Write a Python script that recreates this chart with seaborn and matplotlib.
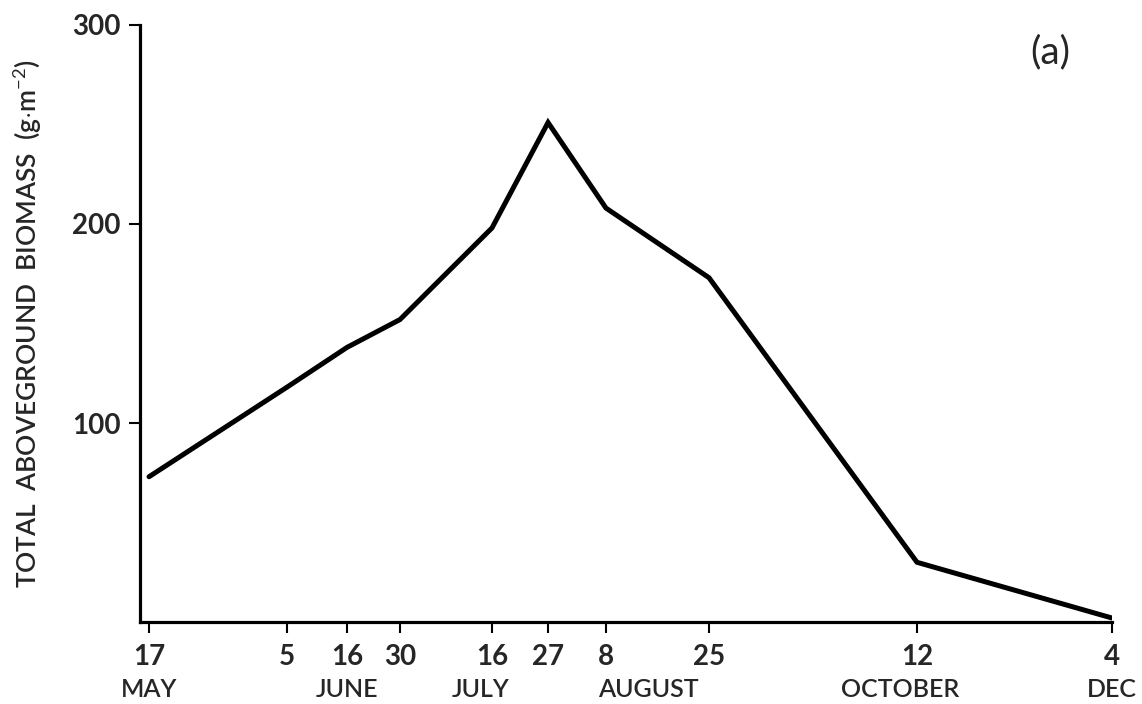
import numpy as np
import pandas as pd
import matplotlib
matplotlib.use("Agg")
import matplotlib.pyplot as plt
import matplotlib.transforms as mtransforms
import seaborn as sns

# Sampling dates (month, day) and total aboveground biomass (g m^-2)
sample_months = [5, 6, 6, 6, 7, 7, 8, 8, 10, 12]
sample_days = [17, 5, 16, 30, 16, 27, 8, 25, 12, 4]
biomass = [73, 118, 138, 152, 198, 251, 208, 173, 30, 2]

# Month captions under the date ticks: (label, month, day the caption is centred on)
month_labels = ["MAY", "JUNE", "JULY", "AUGUST", "OCTOBER", "DEC"]
month_label_months = [5, 6, 7, 8, 10, 12]
month_label_days = [17, 16, 14, 15, 8, 4]

y_ticks = [100, 200, 300]

start = pd.Timestamp(2001, 5, 17)


def day_offset(months, days):
    return np.array([(pd.Timestamp(2001, m, d) - start).days for m, d in zip(months, days)], float)


x_days = day_offset(sample_months, sample_days)
df = pd.DataFrame({"day": x_days, "biomass": biomass})

# The printed date axis is not evenly spaced in time: each sampling date has its
# own place along the axis (fraction of axis length).
axis_frac = np.array([0.0093, 0.1512, 0.2130, 0.2675, 0.3621, 0.4198, 0.4794, 0.5854, 0.7994, 1.0])


def _interp_extrap(x, xp, fp):
    x = np.asarray(x, float)
    y = np.interp(x, xp, fp)
    lo = x < xp[0]
    hi = x > xp[-1]
    s0 = (fp[1] - fp[0]) / (xp[1] - xp[0])
    s1 = (fp[-1] - fp[-2]) / (xp[-1] - xp[-2])
    y = np.where(lo, fp[0] + (x - xp[0]) * s0, y)
    y = np.where(hi, fp[-1] + (x - xp[-1]) * s1, y)
    return y


def fwd(x):
    return _interp_extrap(x, x_days, axis_frac)


def inv(u):
    return _interp_extrap(u, axis_frac, x_days)


sns.set_style("ticks")
plt.rcParams["font.family"] = ["Lato", "DejaVu Sans"]
plt.rcParams["mathtext.fontset"] = "custom"
plt.rcParams["mathtext.rm"] = "Lato"
plt.rcParams["mathtext.it"] = "Lato"

fig = plt.figure(figsize=(11.42, 7.04), dpi=100)
ax = fig.add_axes([140 / 1142, 82 / 704, 972 / 1142, 597 / 704])
ax.set_xscale("function", functions=(fwd, inv))

sns.lineplot(data=df, x="day", y="biomass", ax=ax, color="black", linewidth=3.6,
             solid_joinstyle="miter", solid_capstyle="round", legend=False)

ax.set_xlim(inv(0.0), x_days[-1])
ax.set_ylim(0, 300)

ax.set_xticks(x_days)
ax.set_xticklabels([str(d) for d in sample_days], fontsize=20, fontweight="bold")
ax.xaxis.set_minor_locator(matplotlib.ticker.NullLocator())
ax.set_yticks(y_ticks)
ax.set_yticklabels([str(v) for v in y_ticks], fontsize=20, fontweight="bold")

ax.tick_params(axis="both", direction="out", length=8, width=1.5, color="black")
ax.tick_params(axis="x", pad=8)
ax.tick_params(axis="y", pad=6)

for side in ["top", "right"]:
    ax.spines[side].set_visible(False)
for side in ["left", "bottom"]:
    ax.spines[side].set_linewidth(2.3)
    ax.spines[side].set_color("black")

ax.set_xlabel("")
ax.set_ylabel("TOTAL  ABOVEGROUND  BIOMASS  (g$\\cdot$m$^{-2}$)", fontsize=19,
              fontweight="semibold", labelpad=20)

# Month captions on a second row beneath the day numbers
trans = mtransforms.blended_transform_factory(ax.transData, ax.transAxes)
for lab, xm in zip(month_labels, day_offset(month_label_months, month_label_days)):
    ax.text(xm, -0.113, lab, transform=trans, ha="center", va="center",
            fontsize=18, fontweight="semibold")

ax.text(0.936, 0.955, "(a)", transform=ax.transAxes, ha="center", va="center", fontsize=28)

fig.savefig("out.png", dpi=100, facecolor="white")
